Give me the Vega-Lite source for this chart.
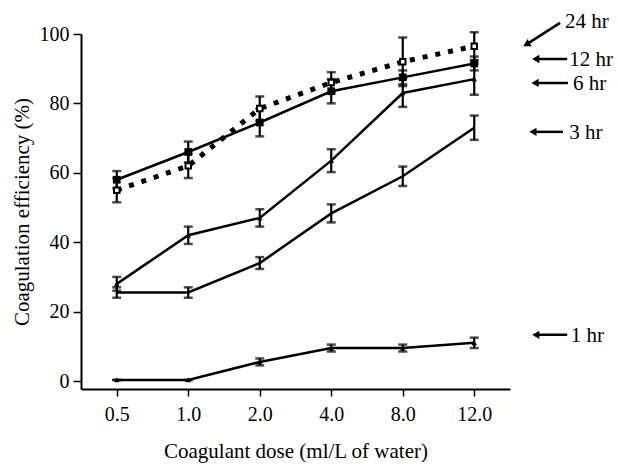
{
  "$schema": "https://vega.github.io/schema/vega-lite/v6.json",
  "width": 429,
  "height": 355,
  "autosize": {"type": "none"},
  "padding": {"left": 81, "top": 34, "right": 108, "bottom": 75},
  "background": "white",
  "config": {
    "view": {"stroke": null},
    "font": "Liberation Serif",
    "axis": {"labelFont": "Liberation Serif", "titleFont": "Liberation Serif", "labelColor": "black", "titleColor": "black", "titleFontWeight": "normal", "labelFontSize": 20, "titleFontSize": 21, "domainColor": "black", "tickColor": "black", "domainWidth": 2, "tickWidth": 1.5, "grid": false}
  },
  "datasets": {
    "main": [
      {"hr": "24 hr", "dose": "0.5", "mean": 55, "err": 3.5},
      {"hr": "24 hr", "dose": "1.0", "mean": 62, "err": 3.5},
      {"hr": "24 hr", "dose": "2.0", "mean": 78.5, "err": 3.5},
      {"hr": "24 hr", "dose": "4.0", "mean": 86, "err": 3},
      {"hr": "24 hr", "dose": "8.0", "mean": 92, "err": 7},
      {"hr": "24 hr", "dose": "12.0", "mean": 96.5, "err": 4},
      {"hr": "12 hr", "dose": "0.5", "mean": 58, "err": 2.5},
      {"hr": "12 hr", "dose": "1.0", "mean": 66, "err": 3},
      {"hr": "12 hr", "dose": "2.0", "mean": 74.5, "err": 4},
      {"hr": "12 hr", "dose": "4.0", "mean": 83.5, "err": 3.5},
      {"hr": "12 hr", "dose": "8.0", "mean": 87.5, "err": 2},
      {"hr": "12 hr", "dose": "12.0", "mean": 91.5, "err": 2},
      {"hr": "6 hr", "dose": "0.5", "mean": 28, "err": 2},
      {"hr": "6 hr", "dose": "1.0", "mean": 42, "err": 2.5},
      {"hr": "6 hr", "dose": "2.0", "mean": 47, "err": 2.5},
      {"hr": "6 hr", "dose": "4.0", "mean": 63.5, "err": 3.3},
      {"hr": "6 hr", "dose": "8.0", "mean": 83, "err": 4},
      {"hr": "6 hr", "dose": "12.0", "mean": 87, "err": 4.5},
      {"hr": "3 hr", "dose": "0.5", "mean": 25.5, "err": 1.5},
      {"hr": "3 hr", "dose": "1.0", "mean": 25.5, "err": 1.5},
      {"hr": "3 hr", "dose": "2.0", "mean": 34, "err": 1.7},
      {"hr": "3 hr", "dose": "4.0", "mean": 48.3, "err": 2.6},
      {"hr": "3 hr", "dose": "8.0", "mean": 59, "err": 2.8},
      {"hr": "3 hr", "dose": "12.0", "mean": 73, "err": 3.5},
      {"hr": "1 hr", "dose": "0.5", "mean": 0.3, "err": 0},
      {"hr": "1 hr", "dose": "1.0", "mean": 0.3, "err": 0},
      {"hr": "1 hr", "dose": "2.0", "mean": 5.5, "err": 1},
      {"hr": "1 hr", "dose": "4.0", "mean": 9.5, "err": 1},
      {"hr": "1 hr", "dose": "8.0", "mean": 9.5, "err": 1},
      {"hr": "1 hr", "dose": "12.0", "mean": 11, "err": 1.5}
    ],
    "notes": [
      {"label": "24 hr", "tx": 7.2, "ty": 103.2, "hx": 6.73, "hy": 97.0, "lx": 7.27, "ly": 103.6},
      {"label": "12 hr", "tx": 7.3, "ty": 92.8, "hx": 6.86, "hy": 92.8, "lx": 7.33, "ly": 92.5},
      {"label": "6 hr", "tx": 7.31, "ty": 85.9, "hx": 6.85, "hy": 85.9, "lx": 7.38, "ly": 85.6},
      {"label": "3 hr", "tx": 7.24, "ty": 71.8, "hx": 6.82, "hy": 71.8, "lx": 7.33, "ly": 71.6},
      {"label": "1 hr", "tx": 7.3, "ty": 13.3, "hx": 6.86, "hy": 13.3, "lx": 7.35, "ly": 12.9}
    ]
  },
  "resolve": {"scale": {"x": "independent"}},
  "layer": [
    {
      "data": {"name": "main"},
      "encoding": {
        "x": {"field": "dose", "type": "ordinal", "scale": {"type": "point", "domain": ["0.5", "1.0", "2.0", "4.0", "8.0", "12.0"], "padding": 0.5},
          "axis": {"title": "Coagulant dose (ml/L of water)", "labelAngle": 0, "tickSize": 7, "labelPadding": 8, "titlePadding": 16}},
        "y": {"field": "mean", "type": "quantitative", "scale": {"domain": [-2.3, 100], "nice": false, "zero": false},
          "axis": {"title": "Coagulation efficiency (%)", "values": [0, 20, 40, 60, 80, 100], "tickSize": 8, "labelPadding": 4, "titlePadding": 7}}
      },
      "layer": [
        {
          "transform": [{"filter": "datum.hr !== '24 hr'"}],
          "mark": {"type": "line", "color": "black", "strokeWidth": 2.5},
          "encoding": {"detail": {"field": "hr"}}
        },
        {
          "transform": [{"filter": "datum.hr === '24 hr'"}],
          "mark": {"type": "line", "color": "black", "strokeWidth": 5, "strokeDash": [5, 8]},
          "encoding": {"detail": {"field": "hr"}}
        },
        {
          "mark": {"type": "errorbar", "color": "black", "rule": {"strokeWidth": 2.2}, "ticks": {"size": 9, "thickness": 2.5}},
          "encoding": {"yError": {"field": "err"}}
        },
        {
          "transform": [{"filter": "datum.hr === '12 hr'"}],
          "mark": {"type": "point", "shape": "square", "filled": true, "color": "black", "size": 60, "opacity": 1},
          "encoding": {}
        },
        {
          "transform": [{"filter": "datum.hr === '24 hr'"}],
          "mark": {"type": "point", "shape": "square", "filled": true, "fill": "white", "stroke": "black", "strokeWidth": 2, "size": 30, "opacity": 1},
          "encoding": {}
        },
        {
          "transform": [{"filter": "datum.hr === '1 hr' || datum.hr === '6 hr'"}],
          "mark": {"type": "point", "shape": "triangle-up", "filled": true, "color": "black", "size": 30, "opacity": 1},
          "encoding": {}
        }
      ]
    },
    {
      "data": {"name": "notes"},
      "layer": [
        {
          "mark": {"type": "rule", "color": "black", "strokeWidth": 2.5},
          "encoding": {
            "x": {"field": "tx", "type": "quantitative", "scale": {"domain": [0.5, 6.5], "nice": false, "zero": false}, "axis": null},
            "x2": {"field": "hx"},
            "y": {"field": "ty", "type": "quantitative"},
            "y2": {"field": "hy"}
          }
        },
        {
          "mark": {"type": "point", "shape": "triangle-left", "filled": true, "color": "black", "size": 70, "opacity": 1},
          "encoding": {
            "x": {"field": "hx", "type": "quantitative", "scale": {"domain": [0.5, 6.5], "nice": false, "zero": false}, "axis": null},
            "y": {"field": "hy", "type": "quantitative"},
            "angle": {"condition": {"test": "datum.label === '24 hr'", "value": -30}, "value": 0}
          }
        },
        {
          "mark": {"type": "text", "align": "left", "baseline": "middle", "font": "Liberation Serif", "fontSize": 21, "color": "black"},
          "encoding": {
            "x": {"field": "lx", "type": "quantitative", "scale": {"domain": [0.5, 6.5], "nice": false, "zero": false}, "axis": null},
            "y": {"field": "ly", "type": "quantitative"},
            "text": {"field": "label"}
          }
        }
      ]
    }
  ]
}
